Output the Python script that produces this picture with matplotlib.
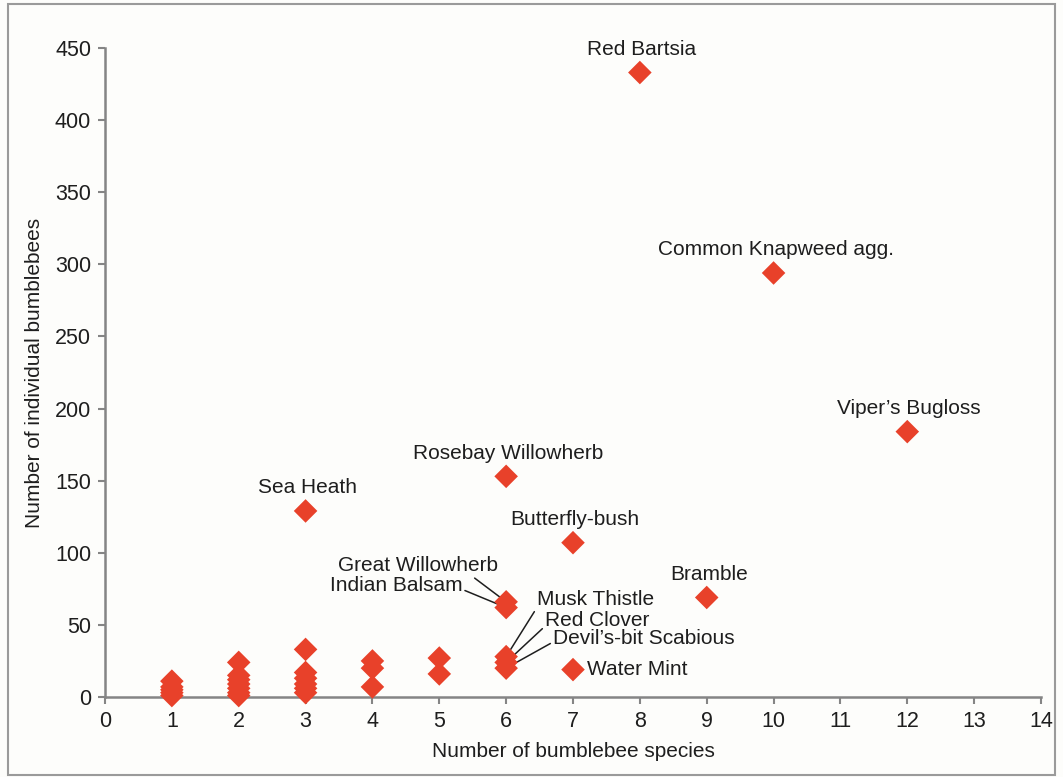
import matplotlib
matplotlib.use("Agg")
import matplotlib.pyplot as plt
from matplotlib.patches import Rectangle

plt.rcParams['font.family'] = ['Liberation Sans', 'DejaVu Sans']

# labelled plants: number of bumblebee species, number of individual bees
plants = ["Red Bartsia", "Common Knapweed agg.", "Viper\u2019s Bugloss",
          "Rosebay Willowherb", "Sea Heath", "Butterfly-bush", "Bramble",
          "Great Willowherb", "Indian Balsam", "Musk Thistle", "Red Clover",
          "Devil\u2019s-bit Scabious", "Water Mint"]
plant_species = [8, 10, 12, 6, 3, 7, 9, 6, 6, 6, 6, 6, 7]
plant_bees = [433, 294, 184, 153, 129, 107, 69, 66, 62, 28, 24, 20, 19]

# unlabelled plants in the bottom cluster
other_species = [1, 1, 1, 1, 1,
                 2, 2, 2, 2, 2, 2, 2,
                 3, 3, 3, 3, 3, 3,
                 4, 4, 4,
                 5, 5]
other_bees = [11, 7, 5, 3, 1,
              24, 15, 12, 9, 6, 3, 1,
              33, 17, 13, 9, 6, 3,
              25, 20, 7,
              27, 16]

x_ticks = list(range(0, 15))
y_ticks = list(range(0, 451, 50))

red = '#E8412A'
grey = '#858585'
txt = '#1E1E1E'
fs = 15

fig = plt.figure(figsize=(10.63, 7.77), dpi=100, facecolor='#FDFDFB')
ax = fig.add_axes([105 / 1063, 1 - 697 / 777, (1041 - 105) / 1063, (697 - 48) / 777])
ax.set_facecolor('#FDFDFB')

ax.scatter(other_species, other_bees, marker='D', s=12 ** 2, color=red,
           edgecolors='none', zorder=3, clip_on=False)
ax.scatter(plant_species, plant_bees, marker='D', s=12 ** 2, color=red,
           edgecolors='none', zorder=3, clip_on=False)

# label placement: (dx, dy in pixels, ha, relpos of leader line or None)
layout = {
    "Great Willowherb": (-88, 36, 'center', (0.83, 0.0)),
    "Indian Balsam": (-44, 22, 'right', (1.0, 0.3)),
    "Musk Thistle": (31, 57, 'left', (0.0, 0.1)),
    "Red Clover": (39, 42, 'left', (0.0, 0.2)),
    "Devil\u2019s-bit Scabious": (47, 30, 'left', (0.0, 0.3)),
    "Water Mint": (14, 0, 'left', None),
}

for name, sx, by in zip(plants, plant_species, plant_bees):
    dx, dy, ha, rel = layout.get(name, (2, 23, 'center', None))
    kw = {}
    if rel is not None:
        kw['arrowprops'] = dict(arrowstyle='-', color=txt, lw=1.1,
                                shrinkA=0, shrinkB=0, relpos=rel)
    ax.annotate(name, xy=(sx, by), xytext=(dx, dy), textcoords='offset pixels',
                ha=ha, va='center', fontsize=fs, color=txt, zorder=2, **kw)

ax.set_xlim(0, 14)
ax.set_ylim(0, 450)
ax.set_xticks(x_ticks)
ax.set_yticks(y_ticks)
ax.tick_params(labelsize=15.5, colors=grey, labelcolor=txt, width=1.5,
               length=5, direction='out', pad=5)

for side in ['top', 'right']:
    ax.spines[side].set_visible(False)
for side in ['left', 'bottom']:
    ax.spines[side].set_color(grey)
    ax.spines[side].set_linewidth(1.8)

ax.set_xlabel("Number of bumblebee species", fontsize=fs, color=txt, labelpad=7)
ax.set_ylabel("Number of individual bumblebees", fontsize=fs, color=txt, labelpad=8)

# thin frame round the whole picture
fig.patches.append(Rectangle((8 / 1063, 2 / 777), 1047 / 1063, 771 / 777,
                             transform=fig.transFigure, fill=False,
                             edgecolor='#9A9A9A', lw=1.5))

fig.savefig('out.png', dpi=100, facecolor=fig.get_facecolor())
